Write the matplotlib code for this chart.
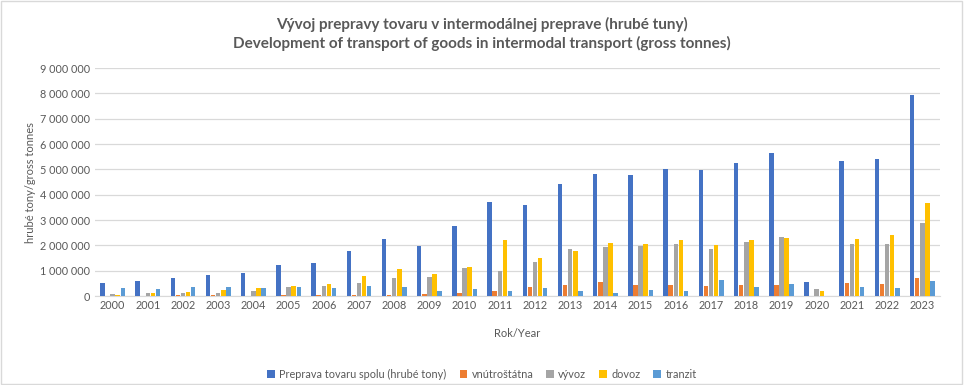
import numpy as np
import matplotlib.pyplot as plt
from matplotlib.ticker import FuncFormatter, MultipleLocator
from matplotlib.patches import Rectangle

plt.rcParams['font.family'] = ['Lato', 'DejaVu Sans']

years = [str(y) for y in range(2000, 2024)]

# hodnoty v milionoch ton, odčítané z grafu
spolu = [0.52, 0.60, 0.72, 0.84, 0.91, 1.23, 1.31, 1.78, 2.26, 1.99, 2.78, 3.72,
         3.61, 4.43, 4.83, 4.79, 5.02, 4.98, 5.26, 5.65, 0.57, 5.34, 5.41, 7.94]
vnutro = [0.0, 0.0, 0.03, 0.03, 0.0, 0.03, 0.03, 0.03, 0.03, 0.07, 0.13, 0.21,
          0.37, 0.45, 0.57, 0.45, 0.45, 0.41, 0.45, 0.45, 0.01, 0.53, 0.49, 0.72]
vyvoz = [0.09, 0.13, 0.13, 0.13, 0.21, 0.37, 0.40, 0.52, 0.72, 0.76, 1.12, 1.00,
         1.36, 1.87, 1.95, 1.99, 2.06, 1.87, 2.14, 2.34, 0.29, 2.06, 2.06, 2.89]
dovoz = [0.05, 0.13, 0.17, 0.25, 0.33, 0.40, 0.48, 0.80, 1.08, 0.88, 1.16, 2.22,
         1.51, 1.79, 2.11, 2.07, 2.22, 2.02, 2.22, 2.30, 0.21, 2.26, 2.42, 3.68]
tranzit = [0.33, 0.29, 0.37, 0.37, 0.33, 0.37, 0.33, 0.40, 0.37, 0.21, 0.29, 0.21,
           0.33, 0.21, 0.13, 0.25, 0.21, 0.64, 0.37, 0.49, 0.0, 0.37, 0.33, 0.60]

series = [
    ('Preprava tovaru spolu (hrubé tony)', spolu, '#4472C4'),
    ('vnútroštátna', vnutro, '#ED7D31'),
    ('vývoz', vyvoz, '#A5A5A5'),
    ('dovoz', dovoz, '#FFC000'),
    ('tranzit', tranzit, '#5B9BD5'),
]

fig = plt.figure(figsize=(9.64, 3.85), dpi=100)
ax = fig.add_axes([0.0985, 0.231, 0.8765, 0.592])

x = np.arange(len(years))
step = 0.145
width = 0.128
for i, (name, vals, col) in enumerate(series):
    ax.bar(x + (i - 2) * step, np.array(vals) * 1e6, width=width, color=col, label=name, zorder=3)

ax.set_xlim(-0.5, len(years) - 0.5)
ax.set_ylim(0, 9e6)
ax.yaxis.set_major_locator(MultipleLocator(1e6))
ax.yaxis.set_major_formatter(FuncFormatter(lambda v, p: f"{int(v):,}".replace(',', ' ')))
ax.set_xticks(x)
ax.set_xticklabels(years)
ax.tick_params(axis='both', length=0, labelsize=7.8, colors='#595959')
ax.tick_params(axis='x', pad=3)
ax.grid(axis='y', color='#D9D9D9', linewidth=0.9, zorder=0)
for s in ['top', 'right', 'left']:
    ax.spines[s].set_visible(False)
ax.spines['bottom'].set_color('#D9D9D9')

ax.set_xlabel('Rok/Year', fontsize=8, color='#595959', labelpad=12)
ax.set_ylabel('hrubé tony/gross tonnes', fontsize=8, color='#595959', labelpad=3)

fig.text(0.5, 0.912, 'Vývoj prepravy tovaru v intermodálnej preprave (hrubé tuny)\n'
         'Development of transport of goods in intermodal transport (gross tonnes)',
         ha='center', va='center', fontsize=11, fontweight='bold', color='#595959',
         linespacing=1.3)

leg = fig.legend(loc='center', bbox_to_anchor=(0.5, 0.028), ncol=5, frameon=False,
                 fontsize=7.8, handlelength=0.7, handleheight=0.7, handletextpad=0.4,
                 columnspacing=1.2)
for t in leg.get_texts():
    t.set_color('#595959')

fig.patches.append(Rectangle((0.001, 0.002), 0.997, 0.995, transform=fig.transFigure,
                             fill=False, edgecolor='#D9D9D9', linewidth=1))

fig.savefig('out.png', dpi=100)
